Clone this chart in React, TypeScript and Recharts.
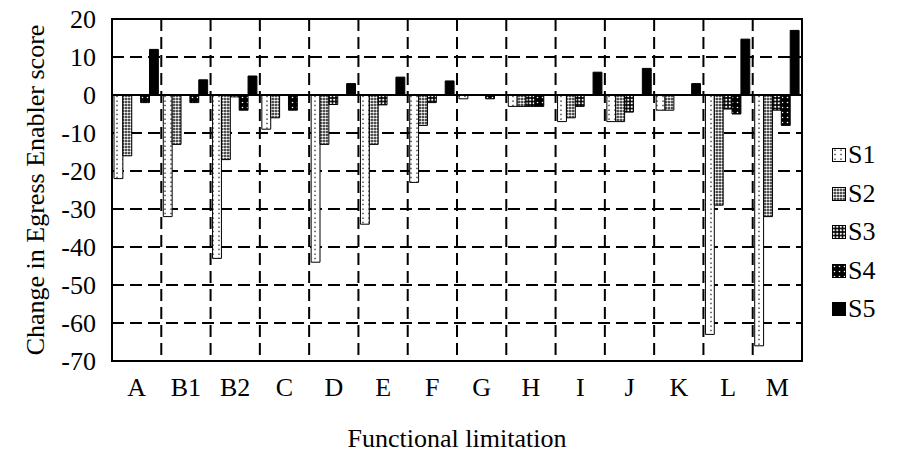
import React from 'react';
import { BarChart, Bar, XAxis, YAxis, CartesianGrid, ReferenceArea, ReferenceLine, Legend } from 'recharts';

const categories = ['A', 'B1', 'B2', 'C', 'D', 'E', 'F', 'G', 'H', 'I', 'J', 'K', 'L', 'M'];
const s1 = [-22, -32, -43, -9, -44, -34, -23, -1, -3, -7, -7, -4, -63, -66];
const s2 = [-16, -13, -17, -6, -13, -13, -8, 0, -3, -6, -7, -4, -29, -32];
const s3 = [0, 0, -0.5, 0, -2.5, -2.6, -2, 0, -3, -3, -4.5, 0, -3.7, -4];
const s4 = [-2, -2, -4, -4, 0, 0, 0, -1, -3, 0, 0, 0, -5, -8];
const s5 = [12, 4, 5, 0, 3, 4.7, 3.7, 0, 0, 6, 7, 3, 14.7, 17];
const yTicks = [20, 10, 0, -10, -20, -30, -40, -50, -60, -70];
const seriesNames = ['S1', 'S2', 'S3', 'S4', 'S5'];
const seriesValues = [s1, s2, s3, s4, s5];

const data = categories.map((c, i) => {
  const row: Record<string, string | number> = { name: c };
  seriesNames.forEach((s, j) => {
    row[s] = seriesValues[j][i];
  });
  return row;
});

const FONT = '"Liberation Serif", "Times New Roman", serif';
const FS = 26;
const PLOT_W = 690;
const BAR_W = PLOT_W / categories.length / seriesNames.length;

const Patterns = () => (
  <defs>
    <pattern id="pS1" patternUnits="userSpaceOnUse" width="6" height="4.5">
      <rect width="6" height="4.5" fill="#fff" />
      <circle cx="3" cy="2" r="0.75" fill="#000" />
    </pattern>
    <pattern id="pS2" patternUnits="userSpaceOnUse" width="3" height="3">
      <rect width="3" height="3" fill="#000" />
      <circle cx="1.5" cy="1.5" r="1.3" fill="#fff" />
    </pattern>
    <pattern id="pS3" patternUnits="userSpaceOnUse" width="3.5" height="3.5">
      <rect width="3.5" height="3.5" fill="#000" />
      <circle cx="1.75" cy="1.75" r="1.15" fill="#fff" />
    </pattern>
    <pattern id="pS4" patternUnits="userSpaceOnUse" width="5" height="5">
      <rect width="5" height="5" fill="#000" />
      <circle cx="2.5" cy="2.5" r="0.8" fill="#fff" />
    </pattern>
    <pattern id="pS5" patternUnits="userSpaceOnUse" width="4" height="4">
      <rect width="4" height="4" fill="#000" />
    </pattern>
  </defs>
);

const LegendContent = () => (
  <div style={{ paddingLeft: 30, transform: 'translateY(5px)' }}>
    {seriesNames.map((s) => (
      <div key={s} style={{ height: 38.5, display: 'flex', alignItems: 'center' }}>
        <svg width={14} height={14} style={{ marginRight: 2 }}>
          <rect x={0.5} y={0.5} width={13} height={13} fill={`url(#p${s})`} stroke="#000" strokeWidth={1} />
        </svg>
        <span style={{ fontFamily: FONT, fontSize: FS, color: '#000', lineHeight: `${FS}px` }}>{s}</span>
      </div>
    ))}
  </div>
);

const XTick = (props: any) => {
  const { x, y, payload } = props;
  return (
    <text x={x} y={y + 33} textAnchor="middle" style={{ fontFamily: FONT, fontSize: FS, fill: '#000' }}>
      {payload.value}
    </text>
  );
};

const YTick = (props: any) => {
  const { x, y, payload } = props;
  return (
    <text x={x - 14} y={y} textAnchor="end" dominantBaseline="central" style={{ fontFamily: FONT, fontSize: FS, fill: '#000' }}>
      {payload.value}
    </text>
  );
};

const YTitle = (props: any) => {
  const vb = props.viewBox || {};
  const x = vb.x + 35;
  const y = vb.y + vb.height / 2;
  return (
    <text
      x={x}
      y={y}
      transform={`rotate(-90, ${x}, ${y})`}
      textAnchor="middle"
      dominantBaseline="central"
      style={{ fontFamily: FONT, fontSize: FS, fill: '#000' }}
    >
      Change in Egress Enabler score
    </text>
  );
};

const XTitle = (props: any) => {
  const vb = props.viewBox || {};
  return (
    <text
      x={vb.x + vb.width / 2}
      y={vb.y + 86}
      textAnchor="middle"
      style={{ fontFamily: FONT, fontSize: FS, fill: '#000' }}
    >
      Functional limitation
    </text>
  );
};

export default function App() {
  return (
    <div style={{ position: 'absolute', left: 0, top: 0 }}>
      <BarChart
        width={900}
        height={454}
        data={data}
        margin={{ top: 19, right: 0, bottom: 0, left: 0 }}
        barCategoryGap={0}
        barGap={0}
        barSize={BAR_W}
        style={{ fontFamily: FONT }}
      >
        <Patterns />
        <CartesianGrid
          stroke="#000"
          strokeWidth={2}
          strokeDasharray="12 6"
          verticalCoordinatesGenerator={({ offset }: any) =>
            categories.slice(1).map((_, i) => offset.left + ((i + 1) * offset.width) / categories.length)
          }
        />
        <XAxis
          dataKey="name"
          tickLine={false}
          axisLine={false}
          tickSize={0}
          height={93}
          interval={0}
          tick={<XTick />}
          label={{ content: <XTitle /> } as any}
        />
        <YAxis
          domain={[-70, 20]}
          ticks={yTicks}
          interval={0}
          width={112}
          tickLine={false}
          axisLine={false}
          tickSize={0}
          allowDataOverflow
          tick={<YTick />}
          label={{ content: <YTitle /> } as any}
        />
        <Legend
          layout="vertical"
          align="right"
          verticalAlign="middle"
          content={<LegendContent />}
          wrapperStyle={{ width: 98 }}
        />
        {seriesNames.map((s) => (
          <Bar key={s} dataKey={s} fill={`url(#p${s})`} stroke="#000" strokeWidth={1} isAnimationActive={false} />
        ))}
        <ReferenceLine y={0} stroke="#000" strokeWidth={2} />
        <ReferenceArea y1={-70} y2={20} fill="none" fillOpacity={0} stroke="#000" strokeWidth={2} />
      </BarChart>
    </div>
  );
}
